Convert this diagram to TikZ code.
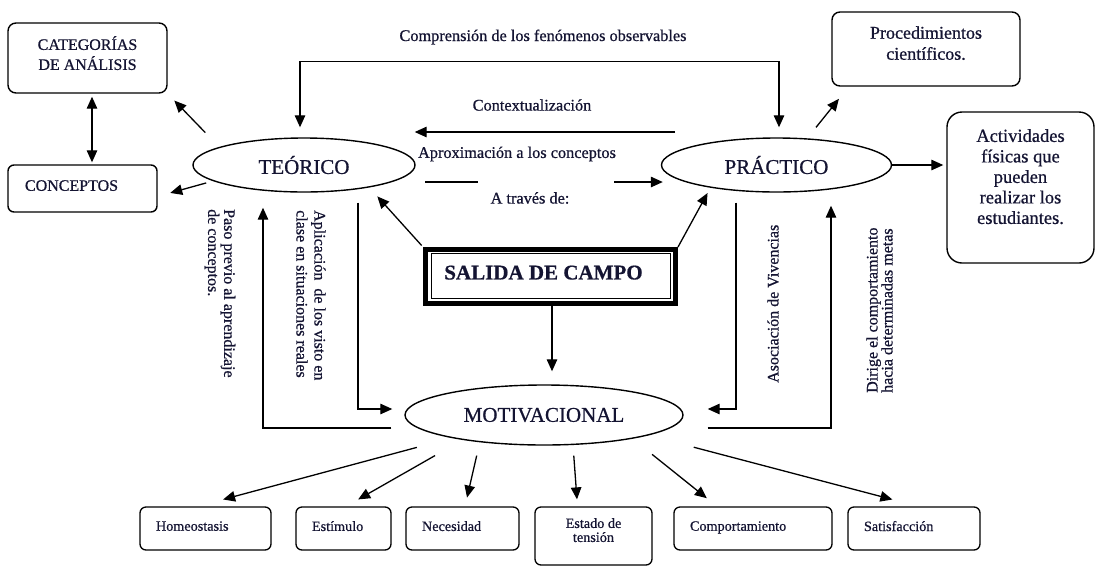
\documentclass[tikz,border=0pt]{standalone}
\usepackage{fontspec}
\setmainfont{Liberation Serif}[RawFeature={embolden=0.7}]
\usetikzlibrary{arrows.meta,shapes.geometric}
\definecolor{ink}{RGB}{20,20,50}
\newcommand{\hueco}[1]{\rule[-#1]{0pt}{#1}}

\begin{document}
\begin{tikzpicture}[x=1pt,y=-1pt,
every node/.style={text=ink,inner sep=0pt},
>={Triangle[length=12pt,width=10.5pt]},
elli/.style={ellipse,draw,line width=1.4pt,font=\fontsize{21}{25}\selectfont},
caja/.style={draw,rounded corners=8pt,line width=1.4pt,align=center},
hoja/.style={draw,rounded corners=6pt,line width=1.3pt,minimum height=43pt,align=left,font=\fontsize{14.2}{14}\selectfont},
rot/.style={align=left,font=\fontsize{16}{17}\selectfont},
lab/.style={font=\fontsize{16.3}{19}\selectfont},
con/.style={line width=1.3pt}]
\useasboundingbox (0,0) rectangle (1096,566);
\node[caja,minimum width=159pt,minimum height=70pt,font=\fontsize{16}{20}\selectfont] (Cat) at (87.5,58) {CATEGORÍAS\\DE ANÁLISIS\hueco{10pt}};
\node[caja,rounded corners=6pt,minimum width=149pt,minimum height=47pt,text width=115pt,align=left,font=\fontsize{16}{20}\selectfont] (Con) at (82.5,188.5) {CONCEPTOS\hueco{6pt}};
\node[caja,minimum width=188pt,minimum height=74pt,font=\fontsize{18}{21}\selectfont] (Proc) at (926,49) {Procedimientos\\científicos.\hueco{12pt}};
\node[caja,rounded corners=15pt,minimum width=147pt,minimum height=151pt,font=\fontsize{18.5}{20.5}\selectfont] (Act) at (1020.5,187.5) {Actividades\\físicas que\\pueden\\realizar los\\estudiantes.\hueco{22pt}};
\node[elli,minimum width=222pt,minimum height=54pt] (Teo) at (304,165) {TEÓRICO};
\node[elli,minimum width=230pt,minimum height=54pt] (Prac) at (776.5,165) {PRÁCTICO};
\node[elli,minimum width=278pt,minimum height=60pt] (Mot) at (544,415) {MOTIVACIONAL\hspace{10pt}};
\node[draw,line width=5pt,minimum width=250pt,minimum height=54pt,font=\bfseries\fontsize{21}{25}\selectfont] (Sal) at (550.5,276.5) {SALIDA DE CAMPO\hspace{14pt}\hueco{8pt}};
\draw[line width=0.9pt] ([shift={(8,6)}]Sal.north west) rectangle ([shift={(-8,-8)}]Sal.south east);
\node[hoja,minimum width=131pt,text width=99pt] (B1) at (205.5,528.5) {Homeostasis\hueco{5pt}};
\node[hoja,minimum width=95pt,text width=63pt] (B2) at (343.5,528.5) {Estímulo\hueco{5pt}};
\node[hoja,minimum width=113pt,text width=81pt] (B3) at (462.5,528.5) {Necesidad\hueco{5pt}};
\node[hoja,minimum width=117pt,minimum height=58pt,align=center] (B4) at (593.5,536) {Estado de\\tensión\hueco{12pt}};
\node[hoja,minimum width=158pt,text width=126pt] (B5) at (753,528.5) {Comportamiento\hueco{5pt}};
\node[hoja,minimum width=132pt,text width=100pt] (B6) at (914,528.5) {Satisfacción\hueco{5pt}};
\node[lab] (Comp) at (543,37) {Comprensión de los fenómenos observables};
\node[lab] (Ctx) at (532,105) {Contextualización};
\node[lab] (Apr) at (517,154) {Aproximación a los conceptos};
\node[lab] (Atr) at (530,198) {A través de:};
\node[rot,rotate=-90,anchor=west,font=\fontsize{16}{16}\selectfont] (L1) at (220,209) {Paso previo al aprendizaje\\de conceptos.};
\node[rot,rotate=-90,anchor=west,font=\fontsize{16}{18}\selectfont] (L2) at (311,210) {Aplicación~ de los visto en\\clase en situaciones reales};
\node[rot,rotate=90,anchor=west] (L3) at (773,383) {Asociación de Vivencias};
\node[rot,rotate=90,anchor=west,font=\fontsize{16}{15}\selectfont] (L4) at (879.5,393) {Dirige el comportamiento\\hacia determinadas metas};
\coordinate (X1) at (675,132);
\coordinate (X2) at (425,182);
\coordinate (X3) at (614,182);
\draw[con,<->,shorten <=3pt,shorten >=2pt] ([xshift=4.5pt]Cat.south) -- ([xshift=4.5pt]Cat.south |- Con.north);
\draw[con,->,shorten <=20pt,shorten >=9.5pt] (Teo.168) -- (Cat.south east);
\draw[con,->,shorten <=7pt,shorten >=13pt] (Teo.190) -- (Con.-6);
\draw[con,<->,shorten <=10pt,shorten >=10pt] ([xshift=-4pt]Teo.north) -- ++(0,-76) -| ([xshift=2.5pt]Prac.north);
\draw[con,->,shorten >=-1pt] (X1) -- (Teo.east |- X1);
\draw[con] (X2) -- ++(53,0);
\draw[con,->,shorten >=-2pt] (X3) -- (Prac.west |- X3);
\draw[con,->,shorten <=2pt,shorten >=12pt] (Sal.north west) -- (Teo.-19);
\draw[con,->,shorten >=6pt] (Sal.north east) -- (Prac.199);
\draw[con,->,shorten >=13pt] ([xshift=1.5pt]Sal.south) -- ([xshift=1.5pt]Sal.south |- Mot.north);
\draw[con,->,shorten <=13pt,shorten >=15pt] ([yshift=-13pt]Mot.west) -| ([xshift=-41pt]Teo.south);
\draw[con,->,shorten <=10pt,shorten >=12pt] ([xshift=54pt]Teo.south) |- ([yshift=6pt]Mot.west);
\draw[con,->,shorten <=10pt,shorten >=24pt] ([xshift=-40.5pt]Prac.south) |- ([yshift=6pt]Mot.east);
\draw[con,->,shorten <=24pt,shorten >=13pt] ([yshift=-13pt]Mot.east) -| ([xshift=54.5pt]Prac.south);
\draw[con,->,shorten <=14pt,shorten >=15.6pt] (Prac.41) -- (Proc.206);
\draw[con,->,shorten >=3pt] (Prac.east) -- (Prac.east -| Act.west);
\draw[con,->,shorten <=36pt,shorten >=26.5pt] (Mot.194) -- ([xshift=-8pt]B1.north);
\draw[con,->,shorten <=31.5pt,shorten >=14pt] (Mot.197) -- ([xshift=2.5pt]B2.north);
\draw[con,->,shorten <=13.7pt,shorten >=9pt] (Mot.203) -- ([xshift=2.5pt]B3.north);
\draw[con,->,shorten <=10.6pt,shorten >=7pt] (Mot.-46) -- ([xshift=-16pt]B4.north);
\draw[con,->,shorten <=25pt,shorten >=13pt] (Mot.-15) -- ([xshift=-36pt]B5.north);
\draw[con,->,shorten <=46.6pt,shorten >=27pt] (Mot.-11) -- ([xshift=4.5pt]B6.north);
\end{tikzpicture}
\end{document}
